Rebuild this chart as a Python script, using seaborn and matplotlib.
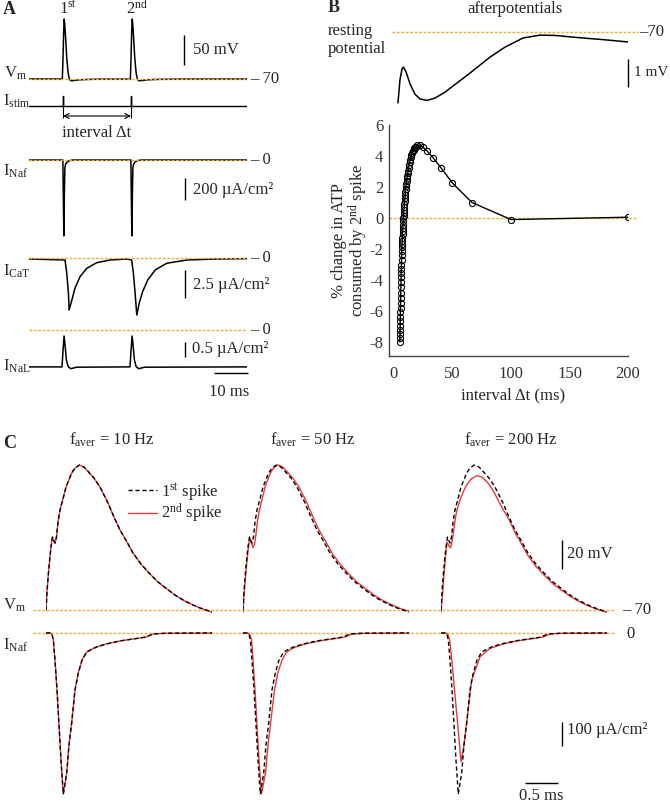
import matplotlib
matplotlib.use("Agg")
import matplotlib.pyplot as plt
import seaborn as sns

sns.set_style("white")
plt.rcParams["font.family"] = ["Liberation Serif", "DejaVu Serif"]
plt.rcParams["mathtext.fontset"] = "custom"
plt.rcParams["mathtext.rm"] = "Liberation Serif"
plt.rcParams["mathtext.it"] = "Liberation Serif:italic"
plt.rcParams["mathtext.bf"] = "Liberation Serif:bold"
plt.rcParams["axes.unicode_minus"] = False
plt.rcParams["font.size"] = 12

W, H = 670, 806
ORANGE = "#EDB12F"
RED = "#E8383D"
DASH = (0, (3, 2))
DOTS = (0, (2, 1.2))

# ---------------- panel A: two spikes 20 ms apart (ms, mV / uA/cm2) ----------------
vm_a_t = [0, 9.8, 10.0, 10.2, 10.35, 10.5, 10.8, 11.1, 11.5, 11.9, 12.4, 13.2, 15.0, 18.0, 22.0,
          29.8, 30.0, 30.2, 30.35, 30.5, 30.8, 31.1, 31.5, 31.9, 32.4, 33.2, 35.0, 38.0, 45.0, 64.1]
vm_a_v = [-70.0, -70.0, -35, 10, 30, 22, -5, -35, -60, -71, -73, -72.5, -71.3, -70.6, -70.3,
          -70.3, -35, 10, 30, 22, -5, -35, -60, -71, -73, -72.5, -71.3, -70.6, -70.2, -70.1]

stim_t = [0, 9.9, 9.9, 10.1, 10.1, 29.9, 29.9, 30.1, 30.1, 64.1]
stim_v = [0, 0, 1, 1, 0, 0, 1, 1, 0, 0]
stim_times = [10, 30]

naf_a_t = [0, 9.95, 10.1, 10.25, 10.4, 10.55, 10.8, 11.3, 12.0, 13.0,
           29.95, 30.1, 30.25, 30.4, 30.55, 30.8, 31.3, 32.0, 33.0, 64.1]
naf_a_v = [0, 0, -350, -690, -300, -70, -35, -15, -5, 0,
           0, -350, -690, -300, -70, -35, -15, -5, 0, 0]

cat_t = [0, 10.6, 11.1, 11.6, 11.8, 12.6, 13.5, 15.0, 17.0, 19.9, 23.8, 28.7,
         30.2, 30.7, 31.2, 31.7, 32.4, 33.4, 34.9, 37.1, 40.5, 46.4, 55.2, 64.1]
cat_v = [0, -0.09, -1.28, -3.06, -4.55, -3.66, -2.62, -1.58, -0.83, -0.33, -0.09, 0,
         -0.09, -1.28, -3.06, -5.0, -3.96, -2.92, -1.88, -0.98, -0.38, -0.09, 0, 0.03]

nal_t = [0, 9.7, 10.0, 10.3, 10.6, 11.0, 11.5, 12.3, 14.0,
         29.7, 30.0, 30.3, 30.6, 31.0, 31.5, 32.3, 34.0, 64.1]
nal_v = [-1.23, -1.23, -0.7, -0.2, -0.5, -1.0, -1.22, -1.29, -1.24,
         -1.23, -0.7, -0.2, -0.5, -1.0, -1.22, -1.29, -1.24, -1.23]

# ---------------- panel B ----------------
after_t = [3.4, 5.1, 6.8, 8.1, 10.3, 13.7, 17.9, 22.2, 28.2, 35.0, 43.6, 53.8, 65.0, 82.1,
           94.9, 110.3, 124.8, 137.6, 153.0, 167.5, 182.1, 200.0]
after_v = [-72.49, -71.68, -71.30, -71.23, -71.40, -71.82, -72.18, -72.35, -72.40, -72.32,
           -72.11, -71.79, -71.44, -70.88, -70.53, -70.21, -70.11, -70.12, -70.18, -70.23,
           -70.28, -70.35]

interval_ms = [5.00, 5.06, 5.13, 5.19, 5.26, 5.33, 5.41, 5.48, 5.56, 5.63,
               5.71, 5.80, 5.88, 5.97, 6.06, 6.15, 6.25, 6.35, 6.45, 6.56,
               6.67, 6.78, 6.90, 7.02, 7.14, 7.27, 7.41, 7.55, 7.69, 7.84,
               8.00, 8.16, 8.33, 8.51, 8.70, 8.89, 9.09, 9.30, 9.52, 9.76,
               10.00, 10.26, 10.53, 10.81, 11.11, 11.43, 11.76, 12.12, 12.50, 12.90,
               13.33, 13.79, 14.29, 14.81, 15.38, 16.00, 16.67, 17.39, 18.18, 19.05,
               20.00, 22.22, 25.00, 28.57, 33.33, 40.00, 50.00, 66.67, 100.00, 200.00]
atp_change = [-8.00, -7.75, -7.49, -7.22, -6.95, -6.67, -6.38, -6.08, -5.78, -5.46,
              -5.14, -4.81, -4.47, -4.12, -3.83, -3.56, -3.29, -3.00, -2.71, -2.41,
              -2.10, -1.87, -1.67, -1.47, -1.26, -1.05, -0.85, -0.65, -0.44, -0.22,
              0.00, 0.16, 0.33, 0.51, 0.70, 0.89, 1.08, 1.27, 1.47, 1.68,
              1.90, 2.05, 2.22, 2.39, 2.56, 2.71, 2.88, 3.06, 3.25, 3.45,
              3.61, 3.76, 3.93, 4.06, 4.18, 4.30, 4.39, 4.49, 4.56, 4.61,
              4.68, 4.70, 4.55, 4.30, 3.90, 3.25, 2.25, 1.00, -0.10, 0.05]
b_xticks = [0, 50, 100, 150, 200]
b_yticks = [-8, -6, -4, -2, 0, 2, 4, 6]

# ---------------- panel C: single spikes (ms, mV / uA/cm2) ----------------
freqs = ["10", "50", "200"]
vm_1st_t = [0.000, 0.015, 0.038, 0.061, 0.083, 0.098, 0.114, 0.136, 0.159, 0.182,
            0.212, 0.253, 0.303, 0.389, 0.439, 0.505, 0.576, 0.641, 0.727, 0.818,
            0.879, 0.939, 1.030, 1.121, 1.227, 1.318, 1.439, 1.576, 1.697, 1.833,
            1.955, 2.076, 2.197, 2.333, 2.424, 2.515]
vm_1st_v = [-70.0, -57.6, -43.8, -32.8, -23.8, -19.7, -21.7, -23.8, -19.7, -9.3,
            -1.0, 5.9, 14.8, 24.5, 27.9, 30.0, 28.6, 25.4, 21.0, 14.8,
            9.3, 3.8, -5.9, -14.8, -23.1, -30.7, -38.3, -45.2, -50.7, -55.5,
            -59.7, -63.1, -65.9, -68.6, -70.0, -71.4]
vm10_2nd_t = vm_1st_t
vm10_2nd_v = [-70.3, -57.8, -43.9, -32.9, -23.9, -19.8, -21.9, -24.0, -19.8, -9.4,
              -1.1, 5.8, 14.7, 24.4, 27.8, 29.9, 28.5, 25.4, 21.0, 14.8,
              9.3, 3.8, -5.9, -14.8, -23.1, -30.7, -38.3, -45.2, -50.7, -55.5,
              -59.7, -63.1, -65.9, -68.6, -70.0, -71.5]
vm50_2nd_t = [0.000, 0.018, 0.042, 0.066, 0.088, 0.106, 0.128, 0.152, 0.175, 0.198,
              0.220, 0.250, 0.290, 0.335, 0.415, 0.462, 0.530, 0.602, 0.668, 0.755,
              0.848, 0.909, 0.969, 1.060, 1.151, 1.257, 1.348, 1.469, 1.606, 1.727,
              1.863, 1.985, 2.106, 2.227, 2.363, 2.454, 2.520]
vm50_2nd_v = [-71.5, -58.5, -44.5, -33.5, -24.5, -20.3, -24.0, -27.0, -24.5, -17.0,
              -8.5, -1.0, 6.5, 15.0, 24.5, 27.9, 30.0, 28.6, 25.4, 21.0,
              14.8, 9.3, 3.8, -5.9, -14.8, -23.1, -30.7, -38.3, -45.2, -50.7,
              -55.5, -59.7, -63.1, -65.9, -68.6, -70.0, -71.0]
vm200_2nd_t = [0.000, 0.023, 0.045, 0.068, 0.091, 0.121, 0.145, 0.170, 0.195, 0.220,
               0.245, 0.300, 0.370, 0.455, 0.541, 0.621, 0.712, 0.803, 0.879, 0.944,
               1.030, 1.121, 1.227, 1.318, 1.439, 1.576, 1.697, 1.833, 1.955, 2.076,
               2.197, 2.333, 2.424, 2.515]
vm200_2nd_v = [-71.4, -59.7, -45.9, -33.4, -23.1, -25.9, -27.2, -22.0, -14.0, -6.0,
               -0.5, 7.5, 14.8, 20.3, 22.6, 21.7, 17.6, 11.4, 4.5, -1.0,
               -7.5, -16.5, -25.0, -32.5, -40.0, -46.5, -52.0, -56.5, -60.5, -63.8,
               -66.4, -69.0, -70.3, -71.6]

inaf_1st_t = [0.000, 0.061, 0.091, 0.111, 0.136, 0.167, 0.197, 0.227, 0.262, 0.314,
              0.348, 0.389, 0.439, 0.489, 0.545, 0.617, 0.697, 0.768, 0.909, 1.121,
              1.318, 1.515, 1.621, 1.818, 2.515]
inaf_1st_v = [0, 0, -6, -29, -113, -238, -383, -529, -671, -583,
              -467, -375, -238, -167, -113, -79, -67, -58, -46, -33,
              -25, -17, -4, -1, 0]
inaf10_2nd_t = inaf_1st_t
inaf10_2nd_v = inaf_1st_v
inaf50_2nd_t = [0.000, 0.076, 0.106, 0.129, 0.152, 0.182, 0.212, 0.242, 0.280, 0.341,
                0.379, 0.424, 0.477, 0.530, 0.591, 0.652, 0.727, 0.803, 0.939, 1.152,
                1.348, 1.545, 1.652, 1.848, 2.515]
inaf50_2nd_v = [0, 0, -8, -29, -113, -238, -383, -529, -671, -583,
                -467, -362, -238, -163, -113, -83, -67, -58, -46, -33,
                -25, -17, -4, -1, 0]
inaf200_2nd_t = [0.000, 0.076, 0.106, 0.132, 0.167, 0.197, 0.227, 0.258, 0.288, 0.303,
                 0.338, 0.389, 0.465, 0.591, 0.742, 0.939, 1.152, 1.348, 1.545, 1.652,
                 1.848, 2.515]
inaf200_2nd_v = [0, 0, -8, -29, -121, -213, -304, -396, -488, -536,
                 -488, -376, -196, -99, -64, -46, -33, -25, -17, -4,
                 -1, 0]

vm_2nd = [(vm10_2nd_t, vm10_2nd_v), (vm50_2nd_t, vm50_2nd_v), (vm200_2nd_t, vm200_2nd_v)]
inaf_2nd = [(inaf10_2nd_t, inaf10_2nd_v), (inaf50_2nd_t, inaf50_2nd_v),
            (inaf200_2nd_t, inaf200_2nd_v)]

fig = plt.figure(figsize=(W / 100, H / 100), dpi=100)


def px_axes(x0, x1, y0, y1):
    return fig.add_axes([x0 / W, 1 - y1 / H, (x1 - x0) / W, (y1 - y0) / H])


def trace_axes(x0, x1, t0, t1, y0, y1, ref_px, ref_val, ppu):
    # axes whose data units map linearly onto the pixel box
    ax = px_axes(x0, x1, y0, y1)
    ax.set_xlim(t0, t1)
    ax.set_ylim(ref_val - (y1 - ref_px) / ppu, ref_val + (ref_px - y0) / ppu)
    ax.axis("off")
    return ax


def trace(ax, t, v, **kw):
    kw.setdefault("color", "black")
    kw.setdefault("linewidth", 1.1)
    sns.lineplot(x=t, y=v, ax=ax, sort=False, estimator=None, legend=False, **kw)
    return ax.lines[-1]


def ftext(x, y, s, **kw):
    kw.setdefault("ha", "left")
    kw.setdefault("va", "center")
    kw.setdefault("fontsize", 12)
    fig.text(x / W, 1 - y / H, s, **kw)


def vbar(ax, x, y0, length):
    ax.plot([x, x], [y0, y0 + length], color="black", lw=1.0,
            solid_capstyle="butt", clip_on=False)


def hbar(ax, x0, y, length):
    ax.plot([x0, x0 + length], [y, y], color="black", lw=1.0,
            solid_capstyle="butt", clip_on=False)


def ref_line(ax, val, **kw):
    ax.axhline(val, color=ORANGE, lw=1.0, ls=DOTS, **kw)


# ---------------- A ----------------
TA = (0, 64.1)
ax_vm = trace_axes(29, 247, *TA, 5, 92, 79, -70, 0.6)
trace(ax_vm, vm_a_t, vm_a_v)
ref_line(ax_vm, -70, zorder=3)
vbar(ax_vm, 45.6, -46.7, 50)

ax_st = trace_axes(29, 247, *TA, 92, 125, 106, 0, 10)
trace(ax_st, stim_t, stim_v, linewidth=1.0)
ax_st.vlines(stim_times, -1.2, 0, color="black", lw=0.8)
ax_st.annotate("", xy=(stim_times[1], -1), xytext=(stim_times[0], -1),
               arrowprops=dict(arrowstyle="<->", lw=0.8, color="black",
                               shrinkA=0, shrinkB=0, mutation_scale=9))

ax_naf = trace_axes(29, 247, *TA, 150, 245, 160, 0, 0.11)
trace(ax_naf, naf_a_t, naf_a_v)
ref_line(ax_naf, 0, zorder=3)
vbar(ax_naf, 45.9, -364, 200)

ax_cat = trace_axes(29, 247, *TA, 250, 322, 259, 0, 11.2)
trace(ax_cat, cat_t, cat_v)
ref_line(ax_cat, 0.08, zorder=3)
vbar(ax_cat, 45.9, -3.48, 2.5)

ax_nal = trace_axes(29, 247, *TA, 325, 380, 330, 0, 30)
trace(ax_nal, nal_t, nal_v)
ref_line(ax_nal, 0, zorder=3)
vbar(ax_nal, 45.9, -0.9, 0.5)
hbar(ax_nal, 54.4, -1.433, 10)

ftext(3, 10, "A", fontweight="bold", fontsize=13)
ftext(68, 9, "1$^{\\mathrm{st}}$", ha="center")
ftext(137, 9, "2$^{\\mathrm{nd}}$", ha="center")
ftext(193, 50, "50 mV")
ftext(4, 73, "V$_{\\mathrm{m}}$")
ftext(3, 101, "I$_{\\mathrm{stim}}$")
ftext(97, 133, "interval Δt", ha="center")
ftext(3, 171, "I$_{\\mathrm{Naf}}$")
ftext(3, 271, "I$_{\\mathrm{CaT}}$")
ftext(3, 366, "I$_{\\mathrm{NaL}}$")
ftext(193, 190, "200 µA/cm²")
ftext(193, 285, "2.5 µA/cm²")
ftext(192, 349, "0.5 µA/cm²")
ftext(229, 392, "10 ms", ha="center")
ftext(250, 79, "– 70")
for y in (160, 258, 330):
    ftext(250, y, "– 0")

# ---------------- B ----------------
TB = (-4.27, 200)
ax_ap = trace_axes(389, 628, *TB, 15, 110, 32, -70, 28.5)
trace(ax_ap, after_t, after_v)
ref_line(ax_ap, -70, xmin=0.013, xmax=1.042, clip_on=False)
vbar(ax_ap, 200, -71.93, 1.0)
ftext(328, 8, "B", fontweight="bold", fontsize=13)
ftext(515, 9, "afterpotentials", ha="center")
ftext(328, 35, "resting", va="baseline")
ftext(328, 53, "potential", va="baseline")
ftext(639, 32, "–70")
ftext(634, 73, "1 mV", fontsize=11)

ax_b = px_axes(389, 628, 125, 356)
sns.lineplot(x=interval_ms, y=atp_change, ax=ax_b, sort=False, estimator=None,
             color="black", linewidth=1.0, marker="o", markersize=4.4,
             markerfacecolor="none", markeredgecolor="black", markeredgewidth=0.8)
ax_b.axhline(0, color=ORANGE, lw=1.0, ls=DOTS, xmin=0, xmax=1.042, clip_on=False, zorder=0)
ax_b.set_xlim(*TB)
ax_b.set_ylim(6 - 231 / 15.5, 6)
ax_b.set_xticks(b_xticks)
ax_b.set_yticks(b_yticks)
sns.despine(ax=ax_b)
for s in ("left", "bottom"):
    ax_b.spines[s].set_color("#444444")
    ax_b.spines[s].set_linewidth(1.0)
ax_b.tick_params(direction="in", length=3, width=0.8, color="#444444",
                 labelcolor="#333333", labelsize=12)
ax_b.tick_params(axis="x", pad=7)
ax_b.tick_params(axis="y", pad=4)
ax_b.set_xlabel("interval Δt (ms)", fontsize=12)
ax_b.set_ylabel("% change in ATP\nconsumed by 2$^{\\mathrm{nd}}$ spike", fontsize=12,
                linespacing=1.0)
ax_b.xaxis.set_label_coords(0.52, -0.134)
ax_b.yaxis.set_label_coords(-0.08, 0.5)

# ---------------- C ----------------
col_x = [46, 243, 441]
TC = (0, 166 / 66)
ax_cv = trace_axes(33, 615, 0, 1, 455, 620, 610, -70, 1.45)
ref_line(ax_cv, -70, zorder=0)
ax_ci = trace_axes(33, 615, 0, 1, 628, 800, 633, 0, 0.24)
ref_line(ax_ci, 0, zorder=0)

handles = []
leg_ax = None
for i, x0 in enumerate(col_x):
    axv = trace_axes(x0, x0 + 166, *TC, 455, 620, 610, -70, 1.45)
    l2 = trace(axv, *vm_2nd[i], color=RED, linewidth=1.0)
    l1 = trace(axv, vm_1st_t, vm_1st_v, linewidth=1.0, linestyle=DASH)
    axi = trace_axes(x0, x0 + 166, *TC, 628, 800, 633, 0, 0.24)
    trace(axi, *inaf_2nd[i], color=RED, linewidth=1.0)
    trace(axi, inaf_1st_t, inaf_1st_v, linewidth=1.0, linestyle=DASH)
    ftext(x0 + 70 - (4 if i == 0 else 0), 440, f"f$_{{\\mathrm{{aver}}}}$ = {freqs[i]} Hz",
          ha="center")
    if i == 0:
        handles = [l1, l2]
        leg_ax = axv
    if i == 2:
        vbar(axv, 1.833, -41.7, 20)
        vbar(axi, 1.833, -471, 100)
        hbar(axi, 1.273, -625, 0.5)

leg_ax.legend(handles=handles, labels=["1$^{\\mathrm{st}}$ spike", "2$^{\\mathrm{nd}}$ spike"],
              loc="upper left", bbox_to_anchor=(128 / W, 1 - 481 / H),
              bbox_transform=fig.transFigure, frameon=False, fontsize=12,
              handlelength=1.75, handletextpad=0.25, labelspacing=-0.05,
              borderpad=0, borderaxespad=0)

ftext(3, 443, "C", fontweight="bold", fontsize=13)
ftext(3, 605, "V$_{\\mathrm{m}}$")
ftext(3, 645, "I$_{\\mathrm{Naf}}$")
ftext(622, 610, "– 70")
ftext(626, 634, "0")
ftext(567, 554, "20 mV")
ftext(567, 730, "100 µA/cm²")
ftext(541, 796, "0.5 ms", ha="center")

fig.savefig("out.png", dpi=100)
